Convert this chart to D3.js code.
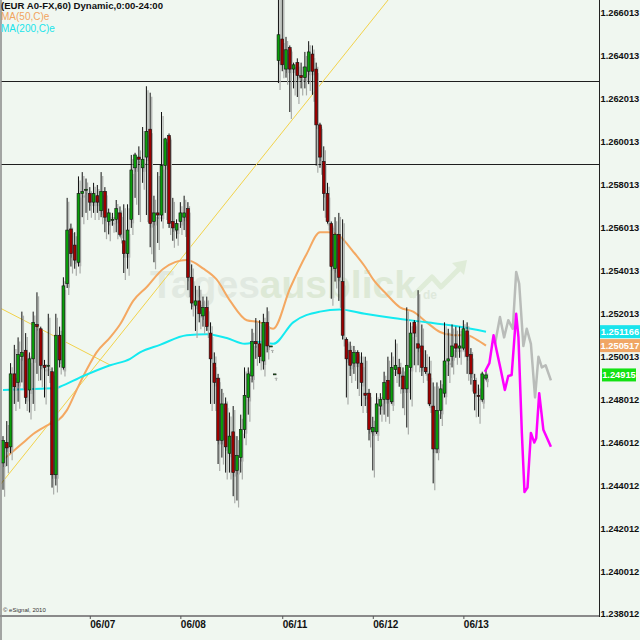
<!DOCTYPE html>
<html><head><meta charset="utf-8">
<script src="https://cdn.jsdelivr.net/npm/d3@7/dist/d3.min.js"></script>
<style>html,body{margin:0;padding:0;background:#f0f7f0;} svg{display:block;font-family:"Liberation Sans",Arial,sans-serif}</style>
</head><body>
<svg id="c" width="640" height="640"></svg>
<script>
// ---------- DATA (EUR/USD hourly) ----------
const opens = [1.24505,1.2460,1.2458,1.2492,1.2488,1.2500,1.2503,1.24845,1.2499,1.2515,1.2513,1.2496,1.2496,1.2493,1.2445,1.2510,1.2495,1.2534,1.25595,1.2552,
1.2544,1.2576,1.2578,1.2576,1.2572,1.2575,1.2568,1.2577,1.2563,1.2564,1.2564,1.2567,1.2554,1.2548,1.2564,1.2588,1.2593,1.2588,1.2593,1.2606,
1.2563,1.2567,1.2566,1.2589,1.2603,1.2563,1.2559,1.2563,1.2565,1.2569,1.2537,1.2524,1.2526,1.2519,1.2523,1.2511,1.2497,1.2490,1.2461,1.2478,
1.2455,1.2465,1.2447,1.2453,1.2466,1.2481,1.2491,1.2507,1.2506,1.2498,1.2516,1.2505,1.2492,1.2638,1.2648,1.2634,1.2644,1.2634,1.2637,1.2631,
1.2630,1.2633,1.2641,1.2634,1.2608,1.2591,1.2576,1.2562,1.2541,1.2557,1.2535,1.2508,1.2503,1.2497,1.2502,1.2497,1.2483,1.2483,1.2465,1.2465,
1.2477,1.2480,1.2489,1.2479,1.2494,1.2495,1.2491,1.2485,1.2495,1.2516,1.2506,1.2505,1.2495,1.2492,1.2477,1.2457,1.2475,1.2483,1.2498,1.2500,
1.2506,1.2504,1.2504,1.2512,1.2501,1.2489,1.2482,1.2480,1.2490];
const highs = [1.2463,1.2470,1.2497,1.25055,1.2509,1.2521,1.2511,1.2502,1.2521,1.2530,1.2514,1.24985,1.2520,1.2495,1.2520,1.2514,1.2537,1.2574,1.2562,1.2558,
1.2584,1.2586,1.2583,1.2579,1.2581,1.2580,1.2586,1.2579,1.2569,1.2567,1.2573,1.2570,1.2571,1.2571,1.2594,1.2595,1.2598,1.2607,1.2626,1.2623,
1.2575,1.2586,1.2614,1.2602,1.2604,1.2574,1.2564,1.2572,1.2575,1.2572,1.2543,1.2533,1.2533,1.2528,1.2528,1.2516,1.2502,1.2492,1.2485,1.2481,
1.2474,1.2477,1.2463,1.2473,1.2495,1.2495,1.2513,1.2518,1.2517,1.2520,1.2523,1.2505,1.2492,1.2671,1.2671,1.2649,1.2645,1.2637,1.2639,1.2637,
1.2642,1.2647,1.2645,1.2637,1.2609,1.2598,1.2581,1.2563,1.2565,1.2567,1.2564,1.2509,1.2507,1.2505,1.2503,1.2502,1.2500,1.2485,1.2472,1.2483,
1.2483,1.2493,1.2500,1.2502,1.2508,1.2499,1.2495,1.2523,1.2516,1.2517,1.2531,1.2515,1.2503,1.2500,1.2488,1.2488,1.2489,1.2516,1.2513,1.2515,
1.2514,1.2514,1.2517,1.2516,1.2504,1.2492,1.2487,1.2493,1.2494];
const lows = [1.2438,1.2449,1.2455,1.2478,1.2479,1.2488,1.2478,1.2474,1.2478,1.2492,1.2489,1.2481,1.2491,1.2439,1.2440,1.2495,1.2494,1.2532,1.2542,1.2541,
1.2542,1.2565,1.2567,1.2568,1.2567,1.2567,1.2565,1.2558,1.2557,1.2561,1.2558,1.2556,1.2539,1.2541,1.2560,1.2574,1.2566,1.2581,1.2566,1.2551,
1.2544,1.2553,1.2563,1.2567,1.2560,1.2554,1.2555,1.2560,1.2559,1.2531,1.2522,1.2512,1.2516,1.2514,1.2512,1.2478,1.2478,1.2450,1.2453,1.2446,
1.2446,1.2435,1.2433,1.2446,1.2462,1.2473,1.2488,1.2499,1.2497,1.2494,1.2502,1.2505,1.2492,1.26275,1.2633,1.2630,1.2614,1.2625,1.2621,1.2625,
1.2625,1.2627,1.2622,1.2589,1.2588,1.2568,1.2562,1.2527,1.2535,1.2526,1.2508,1.2481,1.2491,1.2492,1.2485,1.2477,1.2477,1.2461,1.2447,1.2464,
1.2473,1.2473,1.2472,1.2478,1.2491,1.2486,1.2476,1.2467,1.2480,1.2496,1.2496,1.2491,1.2492,1.2477,1.2441,1.2455,1.2471,1.2481,1.2491,1.2495,
1.24995,1.24995,1.2503,1.2492,1.2487,1.2475,1.2472,1.2479,1.2489];
const closes = [1.2461,1.24575,1.2492,1.2486,1.2501,1.2502,1.2481,1.2499,1.2516,1.2514,1.2496,1.2495,1.2496,1.2445,1.2510,1.24985,1.2533,1.2559,1.2548,1.2545,
1.2576,1.2577,1.2578,1.2572,1.2576,1.2572,1.2577,1.2565,1.2567,1.2564,1.2569,1.2557,1.2548,1.2559,1.2587,1.2594,1.2592,1.2592,1.2605,1.2562,
1.2567,1.2566,1.2589,1.26015,1.2562,1.2560,1.2562,1.2567,1.2567,1.2537,1.2525,1.2526,1.2520,1.2523,1.2514,1.2499,1.2488,1.2461,1.2478,1.2458,
1.2463,1.2446,1.2454,1.2466,1.2482,1.2492,1.2507,1.2506,1.2500,1.2516,1.2505,1.2505,1.2492,1.2650,1.2636,1.2643,1.2634,1.2636,1.2631,1.2630,
1.2635,1.2642,1.2633,1.2608,1.2593,1.2576,1.2563,1.2542,1.2557,1.2537,1.2510,1.2499,1.2496,1.2502,1.2497,1.2488,1.2482,1.2466,1.2467,1.2478,
1.2480,1.2488,1.2480,1.2495,1.2496,1.2492,1.2485,1.2496,1.2511,1.2511,1.2504,1.2495,1.2493,1.2478,1.2457,1.2475,1.2485,1.2498,1.2499,1.2505,
1.2504,1.2505,1.2513,1.2500,1.2492,1.2483,1.24815,1.2492,1.24915];

const dateTickIdx = [23, 47, 74, 98, 122];
const dateLabels = ["06/07", "06/08", "06/11", "06/12", "06/13"];
const priceTicks = [1.266013,1.264013,1.262013,1.260013,1.258013,1.256013,1.254013,1.252013,1.250013,1.248012,1.246012,1.244012,1.242012,1.240012,1.238012];

const ma50Idx = [0,2.7,5.4,8,10.7,12.9,14.7,16.9,19.5,22.2,24.8,28.4,31,34.5,38.1,42.5,48.7,53.1,56.6,60.2,64.6,68.1,71.6,76.1,80.5,84,86.2,89.3,92.8,95.9,98.1,101.7,105.2,108.7,112.3,115.8,119.3,122.9,125.5,128];
const ma50Val = [1.2452,1.2456,1.2460,1.2464,1.2467,1.2469,1.24705,1.2475,1.24845,1.2494,1.2502,1.2509,1.2515,1.2526,1.25325,1.2541,1.2545,1.2541,1.2536,1.2526,1.2517,1.2516,1.2513,1.2532,1.2548,1.2558,1.2558,1.2556,1.2549,1.2542,1.2536,1.2529,1.2523,1.2521,1.2516,1.25115,1.2510,1.2510,1.2508,1.250517];
const ma200Idx = [0,8,14.2,15.1,21.3,28.4,33.7,36.3,41.6,48.7,54,59.3,64.1,68.1,71.6,76.9,84,89.3,95.9,103.4,112.3,121.1,128];
const ma200Val = [1.24845,1.2485,1.24854,1.2486,1.2491,1.2496,1.2499,1.2502,1.25055,1.2510,1.25105,1.25087,1.2506,1.2507,1.2506,1.2516,1.2521,1.2522,1.2520,1.2518,1.2516,1.2514,1.251166];

const fcMagentaIdx = [127.7,128.9,130.0,130.8,131.9,133.0,133.9,134.8,136.0,136.6,137.5,138.2,139.0,139.9,140.8,141.3,142.1,143.2,145.2];
const fcMagentaVal = [1.2493,1.2497,1.2510,1.2503,1.2494,1.24845,1.2491,1.24915,1.2520,1.2509,1.24645,1.2437,1.2439,1.24645,1.2460,1.2462,1.2483,1.2466,1.2458];
const fcGrayIdx = [130.4,131.7,132.8,133.9,135.1,136.0,136.8,137.9,138.8,139.9,141.0,141.9,142.8,143.8,145.2];
const fcGrayVal = [1.2506,1.25185,1.2509,1.2517,1.2513,1.25395,1.2534,1.2505,1.2513,1.2506,1.2481,1.2500,1.2495,1.2496,1.2489];

const hLevels = [1.26285, 1.25898];
const trendA = [[-0.8, 1.24402], [102.6, 1.26674]];
const trendB = [[-0.8, 1.25227], [28.4, 1.24961]];

const lastMA200 = 1.251166, lastMA50 = 1.250517, lastClose = 1.24915;

// ---------- CHART ----------
const svg = d3.select("#c");
const W = 640, H = 640;
const plotL = 1, plotR = 599, plotT = 0, plotB = 616;
const x = d3.scaleLinear().domain([0, 128]).range([3, 486]);
const y = d3.scaleLinear().domain([1.238012, 1.266013]).range([614, 13]);

svg.append("rect").attr("width", W).attr("height", H).attr("fill", "#f0f7f0");

const defs = svg.append("defs");
defs.append("clipPath").attr("id", "clip").append("rect")
  .attr("x", plotL).attr("y", plotT).attr("width", plotR - plotL).attr("height", plotB - plotT);

const plot = svg.append("g").attr("clip-path", "url(#clip)");

// watermark
const wm = plot.append("g");
wm.append("text").attr("x", 150).attr("y", 298).attr("font-size", 39).attr("font-weight", "bold")
  .attr("fill", "#e1e9e1").text("Tages")
  .append("tspan").attr("fill", "#dde9d6").text("ausblick");
wm.append("text").attr("x", 423).attr("y", 299).attr("font-size", 12).attr("font-weight", "bold")
  .attr("fill", "#dfe9dc").text("de");
wm.append("path").attr("d", "M412,297 L432,277 L441,287 L462,266")
  .attr("fill", "none").attr("stroke", "#dfecd8").attr("stroke-width", 5).attr("stroke-linejoin", "round");
wm.append("path").attr("d", "M452,263 L467,260 L464,275 Z").attr("fill", "#dfecd8");

// horizontal levels
plot.selectAll("line.hl").data(hLevels).join("line").attr("class", "hl")
  .attr("x1", plotL).attr("x2", plotR)
  .attr("y1", d => Math.round(y(d)) + 0.5).attr("y2", d => Math.round(y(d)) + 0.5)
  .attr("stroke", "#1e1e1e").attr("stroke-width", 1).attr("shape-rendering", "crispEdges");

// trend lines
[trendA, trendB].forEach(t => {
  plot.append("line")
    .attr("x1", x(t[0][0])).attr("y1", y(t[0][1])).attr("x2", x(t[1][0])).attr("y2", y(t[1][1]))
    .attr("stroke", "#f2d24a").attr("stroke-width", 1);
});

// moving averages
const maLine = d3.line().x(d => x(d[0])).y(d => y(d[1])).curve(d3.curveMonotoneX);
plot.append("path").datum(d3.zip(ma50Idx, ma50Val)).attr("d", maLine)
  .attr("fill", "none").attr("stroke", "#f4a862").attr("stroke-width", 2);
plot.append("path").datum(d3.zip(ma200Idx, ma200Val)).attr("d", maLine)
  .attr("fill", "none").attr("stroke", "#14eaf0").attr("stroke-width", 2);

// candles
const candles = opens.map((o, i) => ({ i, o, h: highs[i], l: lows[i], c: closes[i] }));
const bw = 2.8;
const cg = plot.append("g");
// shadow
cg.selectAll("line.sh").data(candles).join("line").attr("class", "sh")
  .attr("x1", d => x(d.i) + 1.6).attr("x2", d => x(d.i) + 1.6)
  .attr("y1", d => y(d.h) + 4).attr("y2", d => y(d.l) + 7)
  .attr("stroke", "#a9aca9").attr("stroke-width", 1.2);
cg.selectAll("rect.shb").data(candles).join("rect").attr("class", "shb")
  .attr("x", d => x(d.i) - bw / 2 + 1.4).attr("y", d => y(Math.max(d.o, d.c)) + 4)
  .attr("width", bw).attr("height", d => Math.max(1, Math.abs(y(d.o) - y(d.c))))
  .attr("fill", "#b0b3b0");
// wicks
cg.selectAll("line.wk").data(candles).join("line").attr("class", "wk")
  .attr("x1", d => x(d.i)).attr("x2", d => x(d.i))
  .attr("y1", d => y(d.h)).attr("y2", d => y(d.l))
  .attr("stroke", "#111").attr("stroke-width", 1);
// bodies
cg.selectAll("rect.bd").data(candles).join("rect").attr("class", "bd")
  .attr("x", d => x(d.i) - bw / 2).attr("y", d => y(Math.max(d.o, d.c)))
  .attr("width", bw).attr("height", d => Math.max(1, Math.abs(y(d.o) - y(d.c))))
  .attr("fill", d => d.c >= d.o ? "#0a9e0a" : "#9c0000")
  .attr("stroke", "#111").attr("stroke-width", 0.6);

// forecast lines
const fcLine = d3.line().x(d => x(d[0])).y(d => y(d[1]));
plot.append("path").datum(d3.zip(fcGrayIdx, fcGrayVal)).attr("d", fcLine)
  .attr("fill", "none").attr("stroke", "#b9bcb9").attr("stroke-width", 2.5).attr("stroke-linejoin", "round");
plot.append("path").datum(d3.zip(fcMagentaIdx, fcMagentaVal)).attr("d", fcLine)
  .attr("fill", "none").attr("stroke", "#ff00ff").attr("stroke-width", 2.5).attr("stroke-linejoin", "round");

// frame
svg.append("line").attr("x1", 1).attr("x2", 1).attr("y1", 0).attr("y2", 640).attr("stroke", "#8a8a8a").attr("stroke-width", 1.5);
svg.append("line").attr("x1", 0).attr("x2", plotR).attr("y1", plotB).attr("y2", plotB).attr("stroke", "#8a8a8a").attr("stroke-width", 2);
svg.append("line").attr("x1", plotR + 0.5).attr("x2", plotR + 0.5).attr("y1", 0).attr("y2", plotB + 1).attr("stroke", "#222").attr("stroke-width", 1);

// right axis
const ya = svg.append("g").attr("transform", `translate(${plotR},0)`)
  .call(d3.axisRight(y).tickValues(priceTicks).tickFormat(d3.format(".6f")).tickSize(0).tickPadding(1.5));
ya.select(".domain").remove();
ya.selectAll("text").attr("font-size", 9.3).attr("font-weight", "bold").attr("fill", "#111")
  .attr("font-family", "'Liberation Sans',Arial,sans-serif");

// bottom axis
const xa = svg.append("g").attr("transform", `translate(0,${plotB})`)
  .call(d3.axisBottom(x).tickValues(dateTickIdx).tickFormat((d, i) => dateLabels[i]).tickSize(3).tickPadding(2));
xa.select(".domain").remove();
xa.selectAll("line").attr("stroke", "#555");
xa.selectAll("text").attr("text-anchor", "start").attr("font-size", 10).attr("font-weight", "bold").attr("fill", "#111")
  .attr("font-family", "'Liberation Sans',Arial,sans-serif");

// value badges
const badges = [
  { v: lastMA200, bg: "#19e4ec", x0: 600, w: 40 },
  { v: lastMA50, bg: "#f0a665", x0: 600, w: 40 },
  { v: lastClose, bg: "#12e212", x0: 602, w: 34 }
];
badges.forEach(b => {
  const cy = y(b.v);
  svg.append("rect").attr("x", b.x0).attr("y", cy - 6.5).attr("width", b.w).attr("height", 13).attr("fill", b.bg);
  svg.append("text").attr("x", b.x0 + b.w / 2).attr("y", cy + 3.4).attr("text-anchor", "middle")
    .attr("font-size", 9.3).attr("font-weight", "bold").attr("fill", "#fff").text(String(b.v));
});

// titles
svg.append("text").attr("x", 1).attr("y", 8.5).attr("font-size", 9.5).attr("font-weight", "bold").attr("fill", "#111")
  .attr("textLength", 162).attr("lengthAdjust", "spacingAndGlyphs")
  .text("(EUR A0-FX,60) Dynamic,0:00-24:00");
svg.append("text").attr("x", 1).attr("y", 19.5).attr("font-size", 10).attr("fill", "#f2a45e").text("MA(50,C)e");
svg.append("text").attr("x", 1).attr("y", 32).attr("font-size", 10).attr("fill", "#18e4ea").text("MA(200,C)e");
svg.append("text").attr("x", 3).attr("y", 612).attr("font-size", 6).attr("fill", "#333").text("© eSignal, 2010");
</script>
</body></html>
